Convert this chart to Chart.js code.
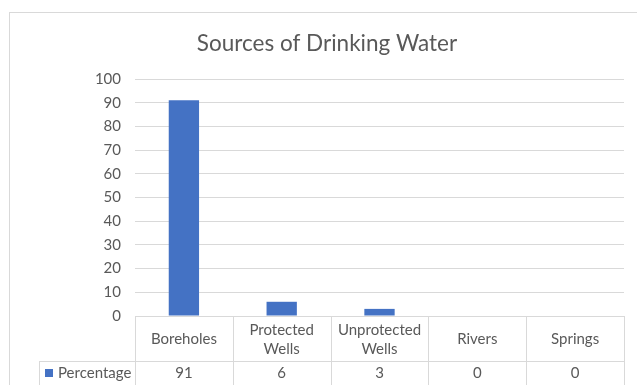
<!DOCTYPE html>
<html>
<head>
<meta charset="utf-8">
<script src="https://cdn.jsdelivr.net/npm/chart.js@4"></script>
<style>
  html, body { margin: 0; padding: 0; background: #ffffff; }
  #wrap { width: 637px; height: 385px; position: relative; }
</style>
</head>
<body>
<div id="wrap"><canvas id="chart" width="637" height="385"></canvas></div>
<script>
// Survey results: share of households by main source of drinking water
const chartTitle = 'Sources of Drinking Water';
const seriesName = 'Percentage';
const categories = ['Boreholes', 'Protected Wells', 'Unprotected Wells', 'Rivers', 'Springs'];
const percentages = [91, 6, 3, 0, 0];
const yTicks = [0, 10, 20, 30, 40, 50, 60, 70, 80, 90, 100];

const FONT = 'Lato, "Liberation Sans", sans-serif';
const LABEL_SIZE = 15;
const TEXT = '#595959';
const LINE = '#d9d9d9';
const BAR = '#4472C4';

// Frame around the chart plus the data table under the plot
const tableAndFrame = {
  id: 'tableAndFrame',
  beforeDraw(chart) {
    const ctx = chart.ctx;
    ctx.save();
    ctx.fillStyle = '#ffffff';
    ctx.fillRect(0, 0, chart.width, chart.height);
    ctx.strokeStyle = LINE;
    ctx.lineWidth = 1;
    ctx.strokeRect(9.5, 12.5, chart.width + 20, chart.height + 20);
    ctx.restore();
  },
  afterDraw(chart) {
    const ctx = chart.ctx;
    const area = chart.chartArea;
    const x = chart.scales.x;
    const n = categories.length;
    const colW = (area.right - area.left) / n;
    const headTop = area.bottom;
    const headBottom = headTop + 45;
    const rowBottom = chart.height + 5;
    const keyLeft = 39.5;

    ctx.save();
    ctx.strokeStyle = LINE;
    ctx.lineWidth = 1;
    ctx.beginPath();
    // header row
    ctx.moveTo(area.left, Math.round(headTop) + 0.5);
    ctx.lineTo(area.right, Math.round(headTop) + 0.5);
    // divider between header and value row
    ctx.moveTo(keyLeft, Math.round(headBottom) + 0.5);
    ctx.lineTo(area.right, Math.round(headBottom) + 0.5);
    // legend key column edge
    ctx.moveTo(keyLeft, Math.round(headBottom));
    ctx.lineTo(keyLeft, rowBottom);
    // column edges
    for (let i = 0; i <= n; i++) {
      const cx = Math.round(x.getPixelForValue(0) - colW / 2 + i * colW) + 0.5;
      ctx.moveTo(cx, headTop);
      ctx.lineTo(cx, rowBottom);
    }
    ctx.stroke();

    ctx.fillStyle = TEXT;
    ctx.font = LABEL_SIZE + 'px ' + FONT;
    ctx.textAlign = 'center';
    ctx.textBaseline = 'middle';
    const rowMid = (headBottom + 385) / 2 + 0.5;
    categories.forEach((name, i) => {
      const cx = x.getPixelForValue(i);
      let lines = [name];
      if (ctx.measureText(name).width > colW - 8) lines = name.split(' ');
      const lh = 19.5;
      const mid = (headTop + headBottom) / 2 + 1;
      lines.forEach((ln, j) => {
        ctx.fillText(ln, cx, mid + (j - (lines.length - 1) / 2) * lh);
      });
      ctx.fillText(String(percentages[i]), cx, rowMid);
    });

    // legend key + series name
    ctx.fillStyle = BAR;
    ctx.fillRect(45, rowMid - 4.5, 8, 8);
    ctx.fillStyle = TEXT;
    ctx.textAlign = 'left';
    ctx.fillText(seriesName, 58, rowMid);
    ctx.restore();
  }
};

new Chart(document.getElementById('chart'), {
  type: 'bar',
  data: {
    labels: categories,
    datasets: [{
      label: seriesName,
      data: percentages,
      backgroundColor: BAR,
      borderWidth: 0,
      categoryPercentage: 1,
      barPercentage: 0.31
    }]
  },
  options: {
    responsive: false,
    animation: false,
    devicePixelRatio: 1,
    layout: { padding: { left: 30, right: 13, top: 0, bottom: 69 } },
    plugins: {
      legend: { display: false },
      tooltip: { enabled: false },
      title: {
        display: true,
        text: chartTitle,
        color: TEXT,
        font: { family: FONT, size: 22.5, weight: 'normal' },
        padding: { top: 30.5, bottom: 21.5 }
      }
    },
    scales: {
      x: {
        display: false
      },
      y: {
        min: 0,
        max: 100,
        afterFit(scale) { scale.width = 105; },
        afterBuildTicks(scale) { scale.ticks = yTicks.map(v => ({ value: v })); },
        border: { display: false },
        grid: { color: LINE, drawTicks: false, lineWidth: 1 },
        ticks: {
          color: TEXT,
          padding: 14,
          font: { family: FONT, size: LABEL_SIZE }
        }
      }
    }
  },
  plugins: [tableAndFrame]
});
</script>
</body>
</html>
